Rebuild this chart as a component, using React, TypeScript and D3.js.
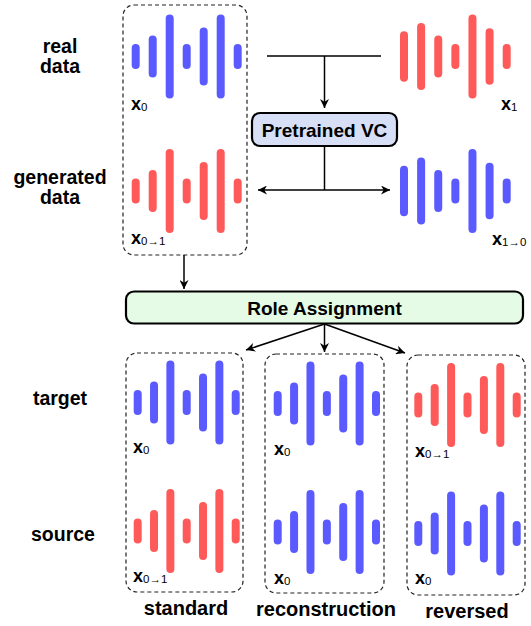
import React from 'react'
import * as d3 from 'd3'

// waveform amplitudes (1 = tallest bar)
const waveA = [0.3, 0.5, 1, 0.3, 0.69, 1, 0.3]
const waveB = [0.6, 0.8, 0.5, 0.3, 1, 0.67, 0.3]

const BLUE = '#5a5aff'
const RED = '#ff5a5a'

const rowLabels = [
  { lines: ['real', 'data'], x: 60, y: 53 },
  { lines: ['generated', 'data'], x: 60, y: 184 },
  { lines: ['target'], x: 60, y: 405 },
  { lines: ['source'], x: 63, y: 541 },
]
const columnLabels = [
  { text: 'standard', x: 186, y: 615 },
  { text: 'reconstruction', x: 326, y: 616 },
  { text: 'reversed', x: 467, y: 618 },
]

// which waves are shown where
const waves = [
  { data: waveA, color: BLUE, x0: 135.7, x1: 237.7, cy: 56.5, sub: '0', lx: 131, ly: 110 },
  { data: waveA, color: RED, x0: 135.7, x1: 237.7, cy: 191, sub: '0→1', lx: 131, ly: 244 },
  { data: waveB, color: RED, x0: 404, x1: 506.7, cy: 56.5, sub: '1', lx: 501, ly: 110 },
  { data: waveB, color: BLUE, x0: 404, x1: 506.7, cy: 191, sub: '1→0', lx: 492, ly: 245 },
  { data: waveA, color: BLUE, x0: 137.7, x1: 235.7, cy: 402.5, sub: '0', lx: 133, ly: 453 },
  { data: waveA, color: RED, x0: 137.7, x1: 235.7, cy: 531, sub: '0→1', lx: 133, ly: 582 },
  { data: waveA, color: BLUE, x0: 277.7, x1: 376, cy: 403.5, sub: '0', lx: 274, ly: 455 },
  { data: waveA, color: BLUE, x0: 277.7, x1: 376, cy: 532, sub: '0', lx: 274, ly: 584 },
  { data: waveA, color: RED, x0: 418.3, x1: 516.7, cy: 405, sub: '0→1', lx: 415, ly: 457 },
  { data: waveA, color: BLUE, x0: 418.3, x1: 516.7, cy: 533.5, sub: '0', lx: 415, ly: 584 },
]

const dashedBoxes = [
  { x: 123, y: 5, w: 124, h: 250 },
  { x: 126, y: 353, w: 117, h: 239 },
  { x: 265, y: 354, w: 119, h: 239 },
  { x: 407, y: 355, w: 118, h: 240 },
]

const font = "'Liberation Sans', Arial, sans-serif"
const amp = d3.scaleLinear().domain([0, 1]).range([0, 84])
const barW = 8

function Wave({ w }: { w: typeof waves[number] }) {
  const x = d3.scalePoint<number>().domain(d3.range(w.data.length)).range([w.x0, w.x1])
  return (
    <g>
      {w.data.map((v, i) => {
        const half = (amp(v) - barW) / 2
        return (
          <line key={i} x1={x(i)} x2={x(i)} y1={w.cy - half} y2={w.cy + half}
            stroke={w.color} strokeWidth={barW} strokeLinecap="round" />
        )
      })}
      <text x={w.lx} y={w.ly} fontFamily={font} fontWeight="bold" fontSize={18} fill="#000">
        x<tspan fontSize={11.5} fontWeight="normal" dy={1}>{w.sub}</tspan>
      </text>
    </g>
  )
}

export default function App() {
  return (
    <svg width={531} height={626} style={{ position: 'absolute', left: 0, top: 0, background: '#fff' }}>
      <defs>
        <marker id="arr" viewBox="0 0 10 10" refX={10} refY={5} markerWidth={9} markerHeight={9}
          markerUnits="userSpaceOnUse" orient="auto-start-reverse">
          <path d="M0,0 L10,5 L0,10 L3,5 z" fill="#000" />
        </marker>
      </defs>

      {dashedBoxes.map((b, i) => (
        <rect key={i} x={b.x} y={b.y} width={b.w} height={b.h} rx={11}
          fill="none" stroke="#222" strokeWidth={1.2} strokeDasharray="4,3" />
      ))}

      {waves.map((w, i) => <Wave key={i} w={w} />)}

      {rowLabels.map((r, i) => (
        <text key={i} x={r.x} y={r.y} textAnchor="middle" fontFamily={font} fontWeight="bold" fontSize={19.5}>
          {r.lines.map((l, j) => (
            <tspan key={j} x={r.x} dy={j === 0 ? 0 : 20}>{l}</tspan>
          ))}
        </text>
      ))}

      {columnLabels.map((c, i) => (
        <text key={i} x={c.x} y={c.y} textAnchor="middle" fontFamily={font} fontWeight="bold" fontSize={20}>{c.text}</text>
      ))}

      {/* real data -> VC */}
      <g stroke="#000" strokeWidth={1.5} fill="none">
        <line x1={267} x2={381} y1={56} y2={56} />
        <line x1={324.5} x2={324.5} y1={56} y2={108} markerEnd="url(#arr)" />
        <line x1={324.5} x2={324.5} y1={146} y2={190} />
        <line x1={258} x2={390} y1={190} y2={190} markerStart="url(#arr)" markerEnd="url(#arr)" />
        <line x1={184} x2={184} y1={255} y2={289} markerEnd="url(#arr)" />
        <line x1={324.5} x2={246} y1={324} y2={350} markerEnd="url(#arr)" />
        <line x1={324.5} x2={324.5} y1={324} y2={352} markerEnd="url(#arr)" />
        <line x1={324.5} x2={405} y1={324} y2={353} markerEnd="url(#arr)" />
      </g>

      <rect x={252} y={113} width={145} height={33} rx={8} fill="#d6dff5" stroke="#000" strokeWidth={2.2} />
      <text x={324.5} y={136.5} textAnchor="middle" fontFamily={font} fontWeight="bold" fontSize={19}>Pretrained VC</text>

      <rect x={126} y={291.5} width={397} height={32} rx={8} fill="#e5fbe5" stroke="#000" strokeWidth={2.2} />
      <text x={324.5} y={314.5} textAnchor="middle" fontFamily={font} fontWeight="bold" fontSize={19}>Role Assignment</text>
    </svg>
  )
}
